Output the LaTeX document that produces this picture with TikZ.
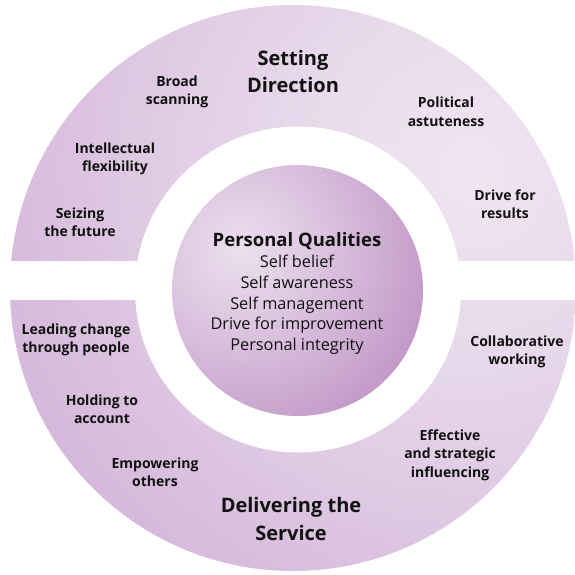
\documentclass[tikz,border=0pt]{standalone}
\usepackage{fontspec}
\setmainfont{Open Sans}
\definecolor{rA}{HTML}{F0E5F2}
\definecolor{rB}{HTML}{E7D7EA}
\definecolor{rC}{HTML}{CFAED5}
\definecolor{rD}{HTML}{C096C7}
\definecolor{rE}{HTML}{BA8FC1}
\definecolor{bA}{HTML}{ECDFEE}
\definecolor{bB}{HTML}{D9C0DD}
\definecolor{bC}{HTML}{BE90C3}
\definecolor{bD}{HTML}{A262A6}
\definecolor{bE}{HTML}{8A4590}
\definecolor{ink}{HTML}{111111}
\pgfdeclareradialshading{ringshade}{\pgfpoint{0bp}{0bp}}{color(0bp)=(rA); color(10bp)=(rB); color(30bp)=(rC); color(45bp)=(rD); color(50bp)=(rE)}
\pgfdeclareradialshading{ballshade}{\pgfpoint{0bp}{0bp}}{color(0bp)=(bA); color(9bp)=(bB); color(21bp)=(bC); color(33bp)=(bD); color(50bp)=(bE)}
\begin{document}
\begin{tikzpicture}[x=1pt,y=-1pt,
  lab/.style={font=\bfseries\fontsize{14}{18.5}\selectfont, align=center, anchor=base, inner sep=0pt, text=ink},
  title/.style={font=\bfseries\fontsize{20}{28}\selectfont, align=center, anchor=base, inner sep=0pt, text=ink},
  qhead/.style={font=\bfseries\fontsize{18.5}{21}\selectfont, anchor=base, inner sep=0pt, text=ink},
  qline/.style={font=\fontsize{16.3}{20.7}\selectfont, align=center, anchor=base, inner sep=0pt, text=ink}]
\useasboundingbox (0,0) rectangle (574,575);
% outer ring
\begin{scope}
  \clip (293,288) circle (283pt);
  \shade[shading=ringshade] (-30,-330) rectangle (970,670);
\end{scope}
\fill[white] (298,289.5) circle (163pt);
\fill[white] (-5,261) rectangle (580,300);
% central ball
\begin{scope}
  \clip (297.5,290.5) circle (125.5pt);
  \shade[shading=ballshade] (-20,-10) rectangle (500,510);
\end{scope}
% titles (anchor = baseline of last line)
\node[title] (sd) at (293,93) {Setting\\Direction};
\node[title] (ds) at (291,540) {Delivering the\\Service};
% labels
\node[lab] (bs) at (177,105) {Broad\\scanning};
\node[lab] (if) at (115,171.5) {Intellectual\\flexibility};
\node[lab] (sf) at (80,236.5) {Seizing\\the future};
\node[lab] (pa) at (446,126.5) {Political\\astuteness};
\node[lab] (dr) at (505,218.5) {Drive for\\results};
\node[lab] (lc) at (76,352.5) {Leading change\\through people};
\node[lab] (ha) at (102,423.5) {Holding to\\account};
\node[lab] (ep) at (155,486.5) {Empowering\\others};
\node[lab] (cw) at (517,364.5) {Collaborative\\working};
\node[lab] (es) at (450,477) {Effective\\and strategic\\influencing};
% centre
\node[qhead] (pq) at (297,246.7) {Personal Qualities};
\node[qline] (ql) at (297,350.5) {Self belief\\Self awareness\\Self management\\Drive for improvement\\Personal integrity};
\end{tikzpicture}
\end{document}
